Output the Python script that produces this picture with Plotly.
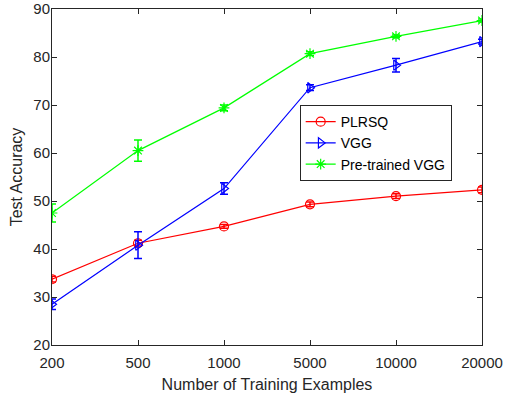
import plotly.graph_objects as go

# Training set sizes (evenly spaced categories on the x axis)
train_sizes = ["200", "500", "1000", "5000", "10000", "20000"]

# Mean test accuracy and error half-widths for each model
plrsq_acc = [33.7, 41.2, 44.7, 49.3, 51.0, 52.3]
plrsq_err = [0.6, 0.6, 0.4, 0.5, 0.5, 0.6]

vgg_acc = [28.5, 40.8, 52.6, 73.6, 78.3, 83.2]
vgg_err = [1.1, 2.8, 1.2, 0.6, 1.4, 0.5]

pre_vgg_acc = [47.5, 60.5, 69.4, 80.7, 84.3, 87.6]
pre_vgg_err = [1.9, 2.2, 0.6, 0.4, 0.3, 0.3]

y_ticks = [20, 30, 40, 50, 60, 70, 80, 90]

series = [
    ("PLRSQ", plrsq_acc, plrsq_err, "#ff0000", "circle-open"),
    ("VGG", vgg_acc, vgg_err, "#0000ff", "triangle-right-open"),
    ("Pre-trained VGG", pre_vgg_acc, pre_vgg_err, "#00ff00", "asterisk-open"),
]

fig = go.Figure()
for name, acc, err, color, symbol in series:
    fig.add_trace(go.Scatter(
        x=train_sizes, y=acc, name=name, mode="lines+markers",
        line=dict(color=color, width=1.2),
        marker=dict(symbol=symbol, size=9, color=color, line=dict(color=color, width=1.2)),
        error_y=dict(type="data", array=err, visible=True, color=color,
                     thickness=1.5, width=4),
    ))

axis_color = "#262626"
font_family = "Liberation Sans, Arial, Helvetica, sans-serif"

fig.update_layout(
    width=505, height=401,
    margin=dict(l=52, r=23, t=9, b=56),
    paper_bgcolor="white", plot_bgcolor="white",
    font=dict(family=font_family, size=15, color=axis_color),
    showlegend=True,
    legend=dict(
        x=0.576, y=0.714, xanchor="left", yanchor="top",
        bgcolor="white", bordercolor=axis_color, borderwidth=1,
        font=dict(size=14, color="#000000"),
        tracegroupgap=0, itemwidth=30,
    ),
    xaxis=dict(
        type="category", range=[0, 5], automargin=False,
        title=dict(text="Number of Training Examples", font=dict(size=16), standoff=8),
        showgrid=False, zeroline=False,
        showline=True, linecolor=axis_color, linewidth=1, mirror="ticks",
        ticks="inside", ticklen=5, tickcolor=axis_color,
        tickfont=dict(size=15), ticklabelstandoff=4,
    ),
    yaxis=dict(
        range=[20, 90], tickvals=y_ticks, automargin=False,
        title=dict(text="Test Accuracy", font=dict(size=16), standoff=6),
        showgrid=False, zeroline=False,
        showline=True, linecolor=axis_color, linewidth=1, mirror="ticks",
        ticks="inside", ticklen=5, tickcolor=axis_color,
        tickfont=dict(size=15), ticklabelstandoff=-2,
    ),
)

fig.write_html("out.html")
